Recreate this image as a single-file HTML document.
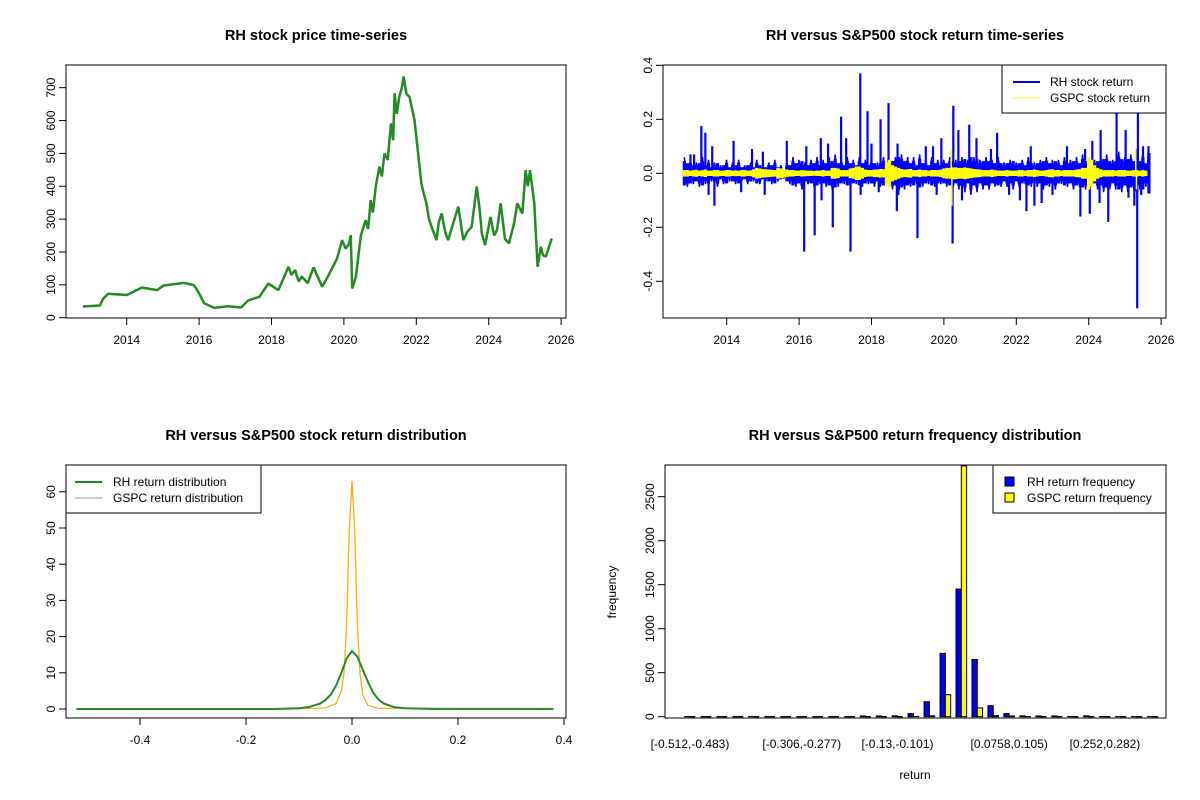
<!DOCTYPE html>
<html><head><meta charset="utf-8"><style>
html,body{margin:0;padding:0;background:#fff;}
svg{display:block;font-family:"Liberation Sans",Arial,sans-serif;}
.t{font-weight:bold;font-size:14.5px;text-anchor:middle;}
.tk{font-size:12px;}
</style></head><body>
<svg id="c" width="1200" height="800" viewBox="0 0 1200 800"></svg>
<script>
// ---- Panel 1: price ----
const priceYears=[2012.79,2013.26,2013.35,2013.49,2014,2014.42,2014.84,2015.02,2015.58,2015.86,2016,2016.14,2016.42,2016.79,2017.16,2017.35,2017.67,2017.91,2018.19,2018.47,2018.55,2018.65,2018.75,2018.84,2019.0,2019.16,2019.4,2019.58,2019.81,2019.95,2020.05,2020.14,2020.19,2020.23,2020.33,2020.47,2020.6,2020.67,2020.74,2020.8,2020.88,2020.98,2021.05,2021.12,2021.21,2021.3,2021.36,2021.4,2021.46,2021.53,2021.6,2021.65,2021.73,2021.81,2021.95,2022.05,2022.14,2022.2,2022.28,2022.35,2022.42,2022.56,2022.62,2022.7,2022.8,2022.88,2023.0,2023.16,2023.3,2023.4,2023.53,2023.67,2023.75,2023.81,2023.9,2024.05,2024.15,2024.23,2024.33,2024.45,2024.56,2024.7,2024.79,2024.93,2025.02,2025.08,2025.14,2025.26,2025.35,2025.44,2025.5,2025.58,2025.74];
const priceValues=[34,37,58,73,69,92,84,98,106,99,74,44,30,35,31,52,64,104,84,155,130,145,110,125,105,153,94,130,180,236,210,225,251,89,124,251,297,270,358,320,399,460,430,500,480,591,540,683,620,673,700,734,680,673,602,500,409,380,348,300,277,236,290,317,260,236,280,338,236,260,277,399,330,256,221,307,250,267,348,240,226,287,348,317,449,400,449,348,155,216,190,186,241];
const priceTicks=[0,100,200,300,400,500,600,700];
const yearTicks=[2014,2016,2018,2020,2022,2024,2026];
// ---- Panel 2: returns ----
const bandStart=2012.83;
const rhBand=[0.06,-0.05,0.05,-0.04,0.04,-0.05,0.06,-0.04,0.05,-0.03,0.04,-0.05,0.03,-0.04,0.05,-0.03,0.04,-0.04,0.05,-0.03,0.03,-0.04,0.04,-0.03,0.05,-0.04,0.03,-0.03,0.04,-0.04,0.05,-0.03,0.03,-0.02,0.04,-0.04,0.06,-0.05,0.05,-0.06,0.04,-0.04,0.05,-0.05,0.06,-0.04,0.05,-0.05,0.06,-0.06,0.07,-0.05,0.05,-0.04,0.06,-0.05,0.05,-0.04,0.06,-0.05,0.05,-0.04,0.05,-0.05,0.04,-0.05,0.06,-0.04,0.05,-0.06,0.06,-0.08,0.07,-0.06,0.06,-0.05,0.06,-0.04,0.07,-0.05,0.05,-0.04,0.06,-0.05,0.05,-0.04,0.05,-0.05,0.06,-0.06,0.05,-0.06,0.06,-0.07,0.05,-0.08,0.06,-0.07,0.05,-0.06,0.06,-0.06,0.05,-0.05,0.06,-0.05,0.04,-0.05,0.05,-0.06,0.04,-0.05,0.05,-0.04,0.06,-0.05,0.04,-0.05,0.05,-0.06,0.06,-0.05,0.05,-0.06,0.05,-0.04,0.06,-0.05,0.05,-0.06,0.06,-0.05,0.07,-0.06,0.06,-0.05,0.05,-0.06,0.06,-0.07,0.07,-0.06,0.05,-0.06,0.08,-0.07,0.06,-0.07,0.07,-0.06,0.09,-0.06,0.08,-0.05,0.1];
const gspcBand=[0.012,-0.012,0.01,-0.012,0.013,-0.01,0.012,-0.014,0.01,-0.01,0.012,-0.012,0.01,-0.01,0.012,-0.012,0.01,-0.011,0.01,-0.012,0.012,-0.01,0.011,-0.015,0.02,-0.018,0.016,-0.015,0.014,-0.013,0.012,-0.02,0.018,-0.016,0.014,-0.012,0.012,-0.01,0.01,-0.012,0.011,-0.01,0.01,-0.009,0.01,-0.01,0.012,-0.01,0.01,-0.02,0.02,-0.018,0.012,-0.012,0.012,-0.018,0.02,-0.025,0.025,-0.02,0.014,-0.012,0.012,-0.014,0.014,-0.016,0.015,-0.04,0.05,-0.03,0.025,-0.02,0.016,-0.014,0.015,-0.016,0.012,-0.012,0.014,-0.012,0.012,-0.01,0.012,-0.012,0.012,-0.014,0.018,-0.02,0.02,-0.022,0.022,-0.02,0.02,-0.022,0.02,-0.018,0.016,-0.015,0.014,-0.012,0.012,-0.012,0.014,-0.012,0.01,-0.01,0.01,-0.012,0.01,-0.01,0.01,-0.012,0.012,-0.01,0.012,-0.012,0.014,-0.012,0.01,-0.01,0.012,-0.014,0.015,-0.012,0.012,-0.01,0.012,-0.012,0.012,-0.012,0.014,-0.015,0.02,-0.02,0.06,-0.05,0.03,-0.02,0.015,-0.012,0.012,-0.012,0.012,-0.01,0.012,-0.012,0.012,-0.01,0.01,-0.012,0.012,-0.01,0.012,-0.01];
const rhSpikeYears=[2013.0,2013.30,2013.41,2014.19,2015.66,2017.16,2017.69,2017.89,2018.25,2018.47,2019.93,2020.26,2020.7,2021.47,2024.33,2024.77,2025.02,2025.36,2013.66,2016.14,2016.43,2016.93,2017.42,2018.7,2019.27,2020.24,2022.28,2023.77,2024.03,2024.54,2025.26,2025.34,
 2013.1,2013.6,2014.7,2015.0,2016.2,2016.6,2016.8,2017.3,2018.0,2018.72,2019.5,2019.7,2020.4,2020.9,2021.3,2022.4,2023.4,2023.9,2024.1,2025.5,2025.65,
 2013.5,2014.4,2015.05,2016.62,2017.7,2018.2,2019.8,2020.5,2021.8,2022.1,2022.5,2022.7,2023.0,2024.3,2025.1,2025.45];
const rhSpikeValues=[0.07,0.175,0.15,0.12,0.12,0.21,0.37,0.23,0.2,0.26,0.13,0.25,0.18,0.15,0.16,0.24,0.16,0.23,-0.12,-0.29,-0.23,-0.2,-0.29,-0.14,-0.24,-0.26,-0.14,-0.16,-0.15,-0.18,-0.12,-0.5,
 0.07,0.1,0.09,0.08,0.1,0.13,0.11,0.13,0.11,0.11,0.1,0.1,0.16,0.13,0.09,0.1,0.1,0.09,0.12,0.1,0.1,
 -0.08,-0.07,-0.08,-0.1,-0.08,-0.07,-0.08,-0.1,-0.08,-0.1,-0.12,-0.11,-0.08,-0.11,-0.09,-0.08];
const gspcSpikeYears=[2020.2,2020.22,2025.3,2025.32];
const gspcSpikeValues=[0.09,-0.12,0.095,-0.06];
const retTicks=[-0.4,-0.2,0.0,0.2,0.4];
// ---- Panel 3: density ----
const rhDensX=[-0.52,-0.15,-0.1,-0.08,-0.06,-0.05,-0.04,-0.03,-0.02,-0.01,0,0.01,0.02,0.03,0.04,0.05,0.06,0.08,0.1,0.15,0.38];
const rhDensY=[0,0,0.2,0.6,1.5,2.5,4,6.5,10,14,16,14.5,11,7.5,4.5,2.6,1.5,0.5,0.2,0.05,0];
const gsDensX=[-0.52,-0.12,-0.05,-0.03,-0.02,-0.015,-0.01,-0.005,0,0.005,0.01,0.015,0.02,0.03,0.05,0.38];
const gsDensY=[0,0,0.3,1.5,5,10,24,50,63,50,24,10,4,1,0.2,0];
const densXTicks=[-0.4,-0.2,0.0,0.2,0.4];
const densYTicks=[0,10,20,30,40,50,60];
// ---- Panel 4: histogram ----
const binLabels=["[-0.512,-0.483)","","","","","","","[-0.306,-0.277)","","","","","","[-0.13,-0.101)","","","","","","","[0.0758,0.105)","","","","","","[0.252,0.282)","","",""];
const rhFreq=[2,0,0,0,1,0,0,0,0,0,0,8,8,10,35,170,720,1450,650,125,35,10,8,8,2,10,2,1,1,1];
const gspcFreq=[0,0,0,0,0,0,0,0,0,0,0,0,0,0,3,10,250,2850,100,12,8,2,0,0,0,0,0,0,0,0];
const freqTicks=[0,500,1000,1500,2000,2500];

const svg=document.getElementById('c');
const NS='http://www.w3.org/2000/svg';
function mk(tag,attrs,parent){const e=document.createElementNS(NS,tag);for(const k in attrs)e.setAttribute(k,attrs[k]);(parent||svg).appendChild(e);return e;}
function txt(s,x,y,cls,extra,parent){const e=mk('text',Object.assign({x:x,y:y,class:cls},extra||{}),parent);e.textContent=s;return e;}

function frame(x0,y0,x1,y1,name){
 const r=mk('rect',{x:x0,y:y0,width:x1-x0,height:y1-y0,fill:'none',stroke:'#000','stroke-width':1});
 
 
}
function clip(id,x0,y0,x1,y1){const c=mk('clipPath',{id:id});mk('rect',{x:x0,y:y0,width:x1-x0,height:y1-y0},c);}
function xTicks(vals,fx,yb,fmt,name){
 const g=mk('g',{});
 
 
 vals.forEach(v=>{const x=fx(v);mk('line',{x1:x,x2:x,y1:yb,y2:yb+7,stroke:'#000'},g);txt(fmt(v),x,yb+26,'tk',{'text-anchor':'middle'},g);});
 mk('line',{x1:fx(vals[0]),x2:fx(vals[vals.length-1]),y1:yb,y2:yb,stroke:'#000'},g);
}
function yTicks(vals,fy,xl,fmt,name){
 const g=mk('g',{});
 
 
 vals.forEach(v=>{const y=fy(v);mk('line',{x1:xl,x2:xl-7,y1:y,y2:y,stroke:'#000'},g);txt(fmt(v),xl-11,y,'tk',{'text-anchor':'middle',transform:`rotate(-90 ${xl-11} ${y})`},g);});
 mk('line',{x1:xl,x2:xl,y1:fy(vals[0]),y2:fy(vals[vals.length-1]),stroke:'#000'},g);
}
function title(s,x,y,name){const t=txt(s,x,y,'t');}

// Panel 1
const p1x=v=>126.7+(v-2014)*36.2, p1y=v=>317.7-v*0.3286;
title('RH stock price time-series',316,40,'price-chart-title');
clip('c1',66,65,566,318);
const pl=mk('polyline',{points:priceYears.map((y,i)=>p1x(y)+','+p1y(priceValues[i])).join(' '),fill:'none',stroke:'#228B22','stroke-width':2.5,'stroke-linejoin':'bevel','clip-path':'url(#c1)'});


frame(66,65,566,318,'price-plot-area');
xTicks(yearTicks,p1x,318,v=>v,'price-x-axis');
yTicks(priceTicks,p1y,66,v=>v,'price-y-axis');

// Panel 2
const p2x=v=>726.7+(v-2014)*36.2, p2y=v=>173.3-v*270;
title('RH versus S&P500 stock return time-series',915,40,'return-chart-title');
clip('c2',663,65,1166,318);
rhBand.forEach((v,i)=>{const a=Math.abs(v);const x=p2x(bandStart+i/12);
 const l=mk('line',{x1:x,x2:x,y1:p2y(a*0.75),y2:p2y(-a*0.75),stroke:'#0000FF','stroke-width':3.2,'clip-path':'url(#c2)'});
 
 });
const rb=mk('polyline',{points:rhBand.map((v,i)=>p2x(bandStart+i/12)+','+p2y(v)).join(' '),fill:'none',stroke:'#0000FF','stroke-width':1.5,'clip-path':'url(#c2)'});


rhSpikeYears.forEach((y,i)=>{const l=mk('line',{x1:p2x(y),x2:p2x(y),y1:p2y(0),y2:p2y(rhSpikeValues[i]),stroke:'#0000FF','stroke-width':2.2,'clip-path':'url(#c2)'});
 
 });
gspcBand.forEach((v,i)=>{const a=Math.abs(v);const x=p2x(bandStart+i/12);
 const l=mk('line',{x1:x,x2:x,y1:p2y(a),y2:p2y(-a),stroke:'#FFFF00','stroke-width':3.2,'clip-path':'url(#c2)'});
 
 });
gspcSpikeYears.forEach((y,i)=>{const l=mk('line',{x1:p2x(y),x2:p2x(y),y1:p2y(0),y2:p2y(gspcSpikeValues[i]),stroke:'#FFFF00','stroke-width':1.5});
 
 });
frame(663,65,1166,318,'return-plot-area');
xTicks(yearTicks,p2x,318,v=>v,'return-x-axis');
yTicks(retTicks,p2y,663,v=>v.toFixed(1),'return-y-axis');
(function(){const g=mk('g',{});
 mk('rect',{x:1002,y:65,width:164,height:48,fill:'#fff',stroke:'#000'},g);
 mk('line',{x1:1013,x2:1040,y1:82,y2:82,stroke:'#0000FF','stroke-width':2},g);
 mk('line',{x1:1013,x2:1040,y1:98,y2:98,stroke:'#FFFF00','stroke-width':1},g);
 txt('RH stock return',1050,86,'tk',{},g);txt('GSPC stock return',1050,102,'tk',{},g);})();

// Panel 3
const p3x=v=>352+v*530, p3y=v=>709-v*3.62;
title('RH versus S&P500 stock return distribution',316,440,'density-chart-title');
clip('c3',66,465,566,718);
const gd=mk('polyline',{points:gsDensX.map((x,i)=>p3x(x)+','+p3y(gsDensY[i])).join(' '),fill:'none',stroke:'#FFA500','stroke-width':1.2,'clip-path':'url(#c3)'});


const rd=mk('polyline',{points:rhDensX.map((x,i)=>p3x(x)+','+p3y(rhDensY[i])).join(' '),fill:'none',stroke:'#228B22','stroke-width':2,'clip-path':'url(#c3)'});


frame(66,465,566,718,'density-plot-area');
xTicks(densXTicks,p3x,718,v=>v===0?'0.0':v.toFixed(1),'density-x-axis');
yTicks(densYTicks,p3y,66,v=>v,'density-y-axis');
(function(){const g=mk('g',{});
 mk('rect',{x:66,y:465,width:195,height:48,fill:'#fff',stroke:'#000'},g);
 mk('line',{x1:75,x2:102,y1:482,y2:482,stroke:'#228B22','stroke-width':2},g);
 mk('line',{x1:75,x2:102,y1:498,y2:498,stroke:'#999','stroke-width':1},g);
 txt('RH return distribution',113,486,'tk',{},g);txt('GSPC return distribution',113,502,'tk',{},g);})();

// Panel 4
const grpW=15.96, p4c=i=>690+i*grpW, p4y=v=>716.7-v*0.088;
title('RH versus S&P500 return frequency distribution',915,440,'histogram-chart-title');
clip('c4',665,465,1166,718);
const bw=grpW/3;
function bar(v,x,fill,name){
 if(v>0){const r=mk('rect',{x:x,y:p4y(v),width:bw,height:p4y(0)-p4y(v),fill:fill,stroke:'#000','stroke-width':1,'clip-path':'url(#c4)'});
  
  }
 else{const l=mk('line',{x1:x,x2:x+bw,y1:p4y(0),y2:p4y(0),stroke:'#000','stroke-width':1.3});
  
  }
}
rhFreq.forEach((v,i)=>bar(v,p4c(i)-bw,'#0000FF','rh-frequency-bar'));
gspcFreq.forEach((v,i)=>bar(v,p4c(i),'#FFFF00','gspc-frequency-bar'));
frame(665,465,1166,718,'histogram-plot-area');
(function(){const g=mk('g',{});
 binLabels.forEach((s,i)=>{if(s)txt(s,p4c(i),748,'tk',{'text-anchor':'middle'},g);});})();
yTicks(freqTicks,p4y,665,v=>v,'histogram-y-axis');
(function(){const a=txt('frequency',616,592,'tk',{'text-anchor':'middle',transform:'rotate(-90 616 592)'});
 const b=txt('return',915,779,'tk',{'text-anchor':'middle'});})();
(function(){const g=mk('g',{});
 mk('rect',{x:993,y:465,width:173,height:48,fill:'#fff',stroke:'#000'},g);
 mk('rect',{x:1005,y:477,width:9,height:9,fill:'#0000FF',stroke:'#000'},g);
 mk('rect',{x:1005,y:493,width:9,height:9,fill:'#FFFF00',stroke:'#000'},g);
 txt('RH return frequency',1027,486,'tk',{},g);txt('GSPC return frequency',1027,502,'tk',{},g);})();
</script>
</body></html>
